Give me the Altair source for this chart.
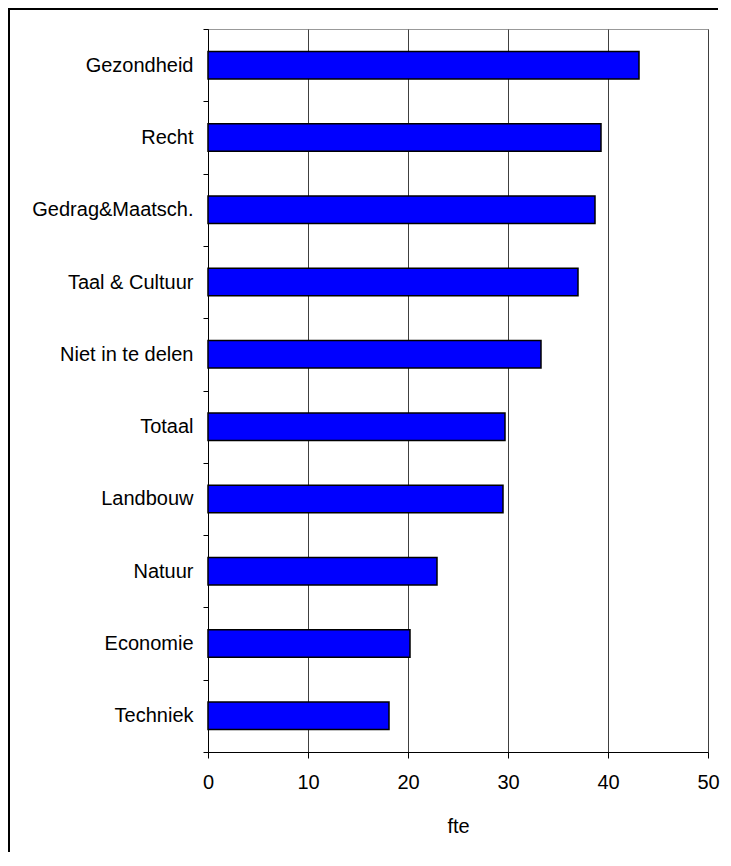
import altair as alt
import pandas as pd

categories = ["Gezondheid", "Recht", "Gedrag&Maatsch.", "Taal & Cultuur", "Niet in te delen",
              "Totaal", "Landbouw", "Natuur", "Economie", "Techniek"]
values = [43.1, 39.3, 38.7, 37.0, 33.3, 29.7, 29.5, 22.9, 20.2, 18.1]
x_ticks = [0, 10, 20, 30, 40, 50]

df = pd.DataFrame({"cat": categories, "fte": values})

FONT = "Liberation Sans"

bars = alt.Chart(df).mark_bar(color="#0000FF", stroke="black", strokeWidth=1.5,
                              height={"band": 0.38}).encode(
    x=alt.X("fte:Q", scale=alt.Scale(domain=[0, 50], nice=False),
            axis=alt.Axis(values=x_ticks, title="fte", grid=True, gridColor="#404040",
                          gridWidth=1, domainColor="black", tickColor="black", tickSize=6,
                          labelPadding=14, labelFontSize=20, labelFont=FONT, labelColor="black",
                          labelFlush=False,
                          titleFont=FONT, titleFontSize=20, titleFontWeight="normal",
                          titleColor="black", titleY=80, titleBaseline="alphabetic")),
    y=alt.Y("cat:N", sort=categories,
            scale=alt.Scale(paddingInner=0, paddingOuter=0),
            axis=alt.Axis(title=None, tickBand="extent", tickSize=5, tickColor="black",
                          domainColor="black", labelPadding=10, labelFontSize=20,
                          labelFont=FONT, labelColor="black", labelLimit=300)),
)

frame_top = alt.Chart(df).mark_rule(color="black", strokeWidth=1.5).encode(
    x=alt.value(-200), x2=alt.value(510), y=alt.value(-20))
frame_left = alt.Chart(df).mark_rule(color="black", strokeWidth=1.5).encode(
    x=alt.value(-199), y=alt.value(-25), y2=alt.value(830))

chart = alt.layer(bars, frame_top, frame_left).properties(
    width=500, height=723,
    autosize=alt.AutoSizeParams(type="none"),
    padding={"left": 200, "top": 21, "right": 14, "bottom": 100},
).configure_view(stroke="#999999", strokeWidth=1)

chart.save("out.html", embed_options={"renderer": "svg", "actions": False})
